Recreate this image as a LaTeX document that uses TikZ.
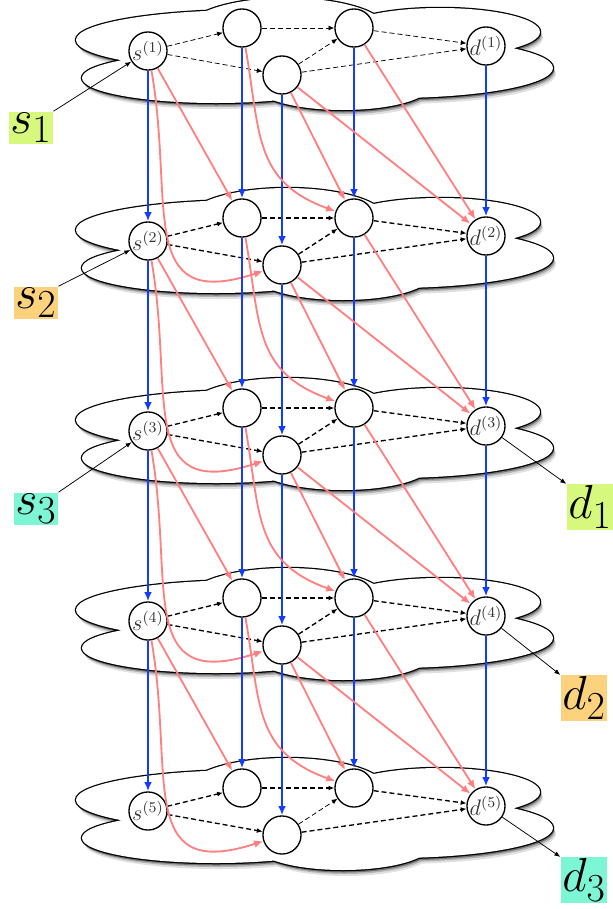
\documentclass[tikz,border=0pt]{standalone}
\usepackage{amsmath}
\usepackage{tikz}
\usetikzlibrary{arrows.meta}
\definecolor{flowblue}{RGB}{20,60,255}
\definecolor{flowred}{RGB}{255,128,128}
\definecolor{srcgreen}{RGB}{213,248,125}
\definecolor{srcorange}{RGB}{253,210,125}
\definecolor{srcteal}{RGB}{125,246,214}
\tikzset{
  relay/.style    = {circle, draw, fill=white, line width=0.8pt, scale=1.12, minimum size=20.4pt, inner sep=0pt, text=black!80, font=\large},
  pair/.style     = {inner sep=0.8pt, scale=1.15, font=\Huge},
  link/.style     = {-{Latex[length=3.4pt,width=3pt]}, dash pattern=on 3pt off 1.8pt},
  hop/.style      = {-{Latex[length=5.5pt,width=4.6pt]}, line width=1.2pt, flowblue},
  cross/.style    = {-{Latex[length=5.5pt,width=4.6pt]}, line width=1.1pt, flowred},
  tag/.style      = {-{Latex[length=3.6pt,width=2.8pt]}, line width=0.45pt}
}
\newcommand{\cloudpath}{(250,-40) ellipse [x radius=174, y radius=30]
  (216,-78) ellipse [x radius=134, y radius=25]
  (287,-30) ellipse [x radius=100, y radius=32]
  (440,-32) ellipse [x radius=100, y radius=24]
  (392,-68) ellipse [x radius=161, y radius=30]
  (343,-85) ellipse [x radius=88, y radius=25]}

\begin{document}
\begin{tikzpicture}[x=0.6pt, y=0.6pt]
  \useasboundingbox (0,0) rectangle (613,-909);
  % one cloud per layer
  \foreach \i in {1,...,5} {
    \begin{scope}[shift={(0,{-190*(\i-1)})}]
      \fill[black!12, shift={(3,-6)}] \cloudpath;
      \fill[black!30, shift={(2,-4)}] \cloudpath;
      \fill[black!55, shift={(1,-2.5)}] \cloudpath;
      \draw[line width=1.5pt] \cloudpath;
      \fill[white] \cloudpath;
    \end{scope}
  }
  % relays of each layer
  \foreach \i in {1,...,5} {
    \pgfmathsetmacro{\y}{-190*(\i-1)}
    \node[relay] (s\i) at (148, \y-51) {$s^{(\i)}$};
    \node[relay] (a\i) at (242, \y-28) {};
    \node[relay] (b\i) at (282, \y-75) {};
    \node[relay] (c\i) at (354, \y-28) {};
    \node[relay] (d\i) at (486, \y-46) {$d^{(\i)}$};
  }
  % links inside a layer
  \foreach \i/\lw/\mw in {1/0.45/0.45, 2/0.8/0.8, 3/0.8/0.8, 4/0.8/0.8, 5/0.8/0.45} {
    \draw[link, line width=\lw pt] (s\i) -- (a\i);
    \draw[link, line width=\lw pt] (s\i) -- (b\i);
    \draw[link, line width=\lw pt] (a\i) -- (c\i);
    \draw[link, line width=\mw pt] (b\i) -- (c\i);
    \draw[link, line width=\lw pt] (c\i) -- (d\i);
    \draw[link, line width=\lw pt] (b\i) -- (d\i);
  }
  % links between layers
  \foreach \i [count=\j from 2] in {1,...,4} {
    \foreach \n in {s,a,b,c,d}
      \draw[hop] (\n\i) -- (\n\j);
    \draw[cross] (s\i) -- (a\j);
    \draw[cross] (s\i) to[out=-80, in=198, looseness=1.5] (b\j);
    \draw[cross] (a\i) to[out=-80, in=160, looseness=1.2] (c\j);
    \draw[cross] (b\i) -- (c\j);
    \draw[cross] (b\i) -- (d\j);
    \draw[cross] (c\i) -- (d\j);
  }
  % sources and destinations
  \node[pair, fill=srcgreen]  (src1) at (31,-128) {$s_1$};
  \node[pair, fill=srcorange] (src2) at (36,-303) {$s_2$};
  \node[pair, fill=srcteal]   (src3) at (36,-509) {$s_3$};
  \node[pair, fill=srcgreen]  (dst1) at (590,-507) {$d_1$};
  \node[pair, fill=srcorange] (dst2) at (584,-698) {$d_2$};
  \node[pair, fill=srcteal]   (dst3) at (584,-880) {$d_3$};
  \draw[tag] (src1.north east) -- (s1);
  \draw[tag] (src2.north east) -- (s2);
  \draw[tag] (src3.north east) -- (s3);
  \draw[tag] (d3) -- (dst1.north west);
  \draw[tag] (d4) -- (dst2.north west);
  \draw[tag] (d5) -- (dst3.north west);
\end{tikzpicture}
\end{document}
